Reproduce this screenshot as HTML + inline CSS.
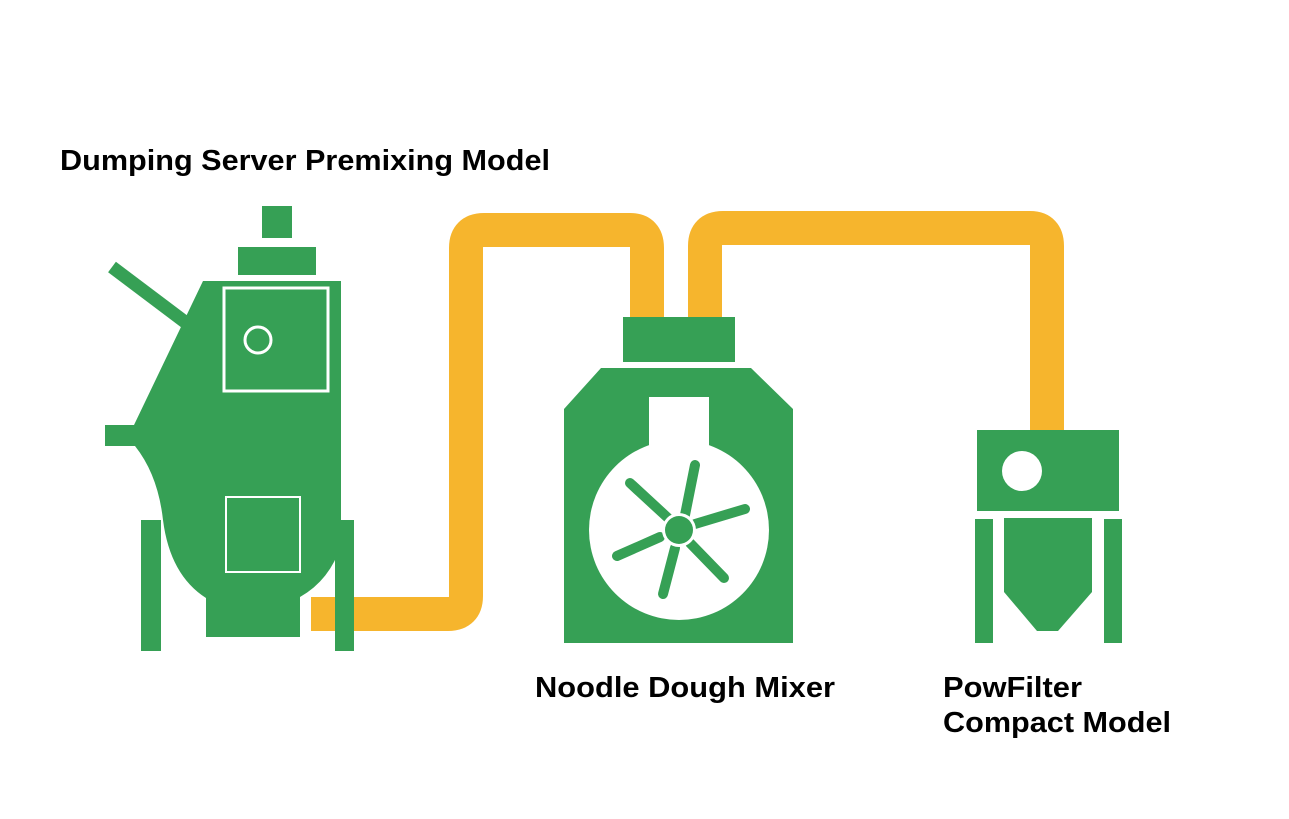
<!DOCTYPE html>
<html><head><meta charset="utf-8"><style>html,body{margin:0;padding:0;background:#fff}svg{display:block}text{font-family:"Liberation Sans",sans-serif;font-weight:bold;font-size:29px;fill:#000}</style></head>
<body>
<svg width="1289" height="819" viewBox="0 0 1289 819" xmlns="http://www.w3.org/2000/svg">
<rect width="1289" height="819" fill="#fff"/>
<!-- pipes -->
<g fill="none" stroke="#F6B52D" stroke-width="34" stroke-linejoin="round">
<path d="M311 614 H448 Q466 614 466 596 V248 Q466 230 484 230 H630 Q647 230 647 248 V320"/>
<path d="M705 320 V246 Q705 228 723 228 H1030 Q1047 228 1047 246 V432"/>
</g>
<!-- left machine -->
<g fill="#36A055">
<rect x="262" y="206" width="30" height="32"/>
<rect x="238" y="247" width="78" height="28"/>
<line x1="112" y1="267" x2="185" y2="322" stroke="#36A055" stroke-width="13"/>
<path d="M203 281 H341 V545 Q330 580 300 597 V637 H206 V598 Q170 575 163 520 Q158 475 135 446 L134 425 Z"/>
<rect x="105" y="425" width="30" height="21"/>
<rect x="141" y="520" width="20" height="131"/>
<rect x="335" y="520" width="19" height="131"/>
</g>
<rect x="224" y="288" width="104" height="103" fill="none" stroke="#fff" stroke-width="3"/>
<circle cx="258" cy="340" r="13" fill="none" stroke="#fff" stroke-width="3"/>
<rect x="226" y="497" width="74" height="75" fill="none" stroke="#fff" stroke-width="2"/>
<!-- mixer -->
<g fill="#36A055">
<rect x="623" y="317" width="112" height="45"/>
<path d="M601 368 H751 L793 409 V643 H564 V409 Z"/>
</g>
<rect x="649" y="397" width="60" height="50" fill="#fff"/>
<circle cx="679" cy="530" r="90" fill="#fff"/>
<g stroke="#36A055" stroke-width="10" stroke-linecap="round">
<line x1="630" y1="483" x2="668" y2="518"/>
<line x1="695" y1="465" x2="685" y2="515"/>
<line x1="745" y1="509" x2="695" y2="524"/>
<line x1="724" y1="578" x2="690" y2="543"/>
<line x1="663" y1="594" x2="675" y2="548"/>
<line x1="617" y1="556" x2="660" y2="537"/>
</g>
<circle cx="679" cy="530" r="17" fill="#fff"/>
<circle cx="679" cy="530" r="14" fill="#36A055"/>
<!-- filter -->
<g fill="#36A055">
<rect x="977" y="430" width="142" height="81"/>
<rect x="975" y="519" width="18" height="124"/>
<rect x="1104" y="519" width="18" height="124"/>
<path d="M1004 518 H1092 V592 L1058 631 H1037 L1004 592 Z"/>
</g>
<circle cx="1022" cy="471" r="20" fill="#fff"/>
<!-- labels -->
<text x="60" y="170" textLength="490" lengthAdjust="spacingAndGlyphs">Dumping Server Premixing Model</text>
<text x="535" y="697" textLength="300" lengthAdjust="spacingAndGlyphs">Noodle Dough Mixer</text>
<text x="943" y="697" textLength="139" lengthAdjust="spacingAndGlyphs">PowFilter</text>
<text x="943" y="732" textLength="228" lengthAdjust="spacingAndGlyphs">Compact Model</text>
</svg>
</body></html>
